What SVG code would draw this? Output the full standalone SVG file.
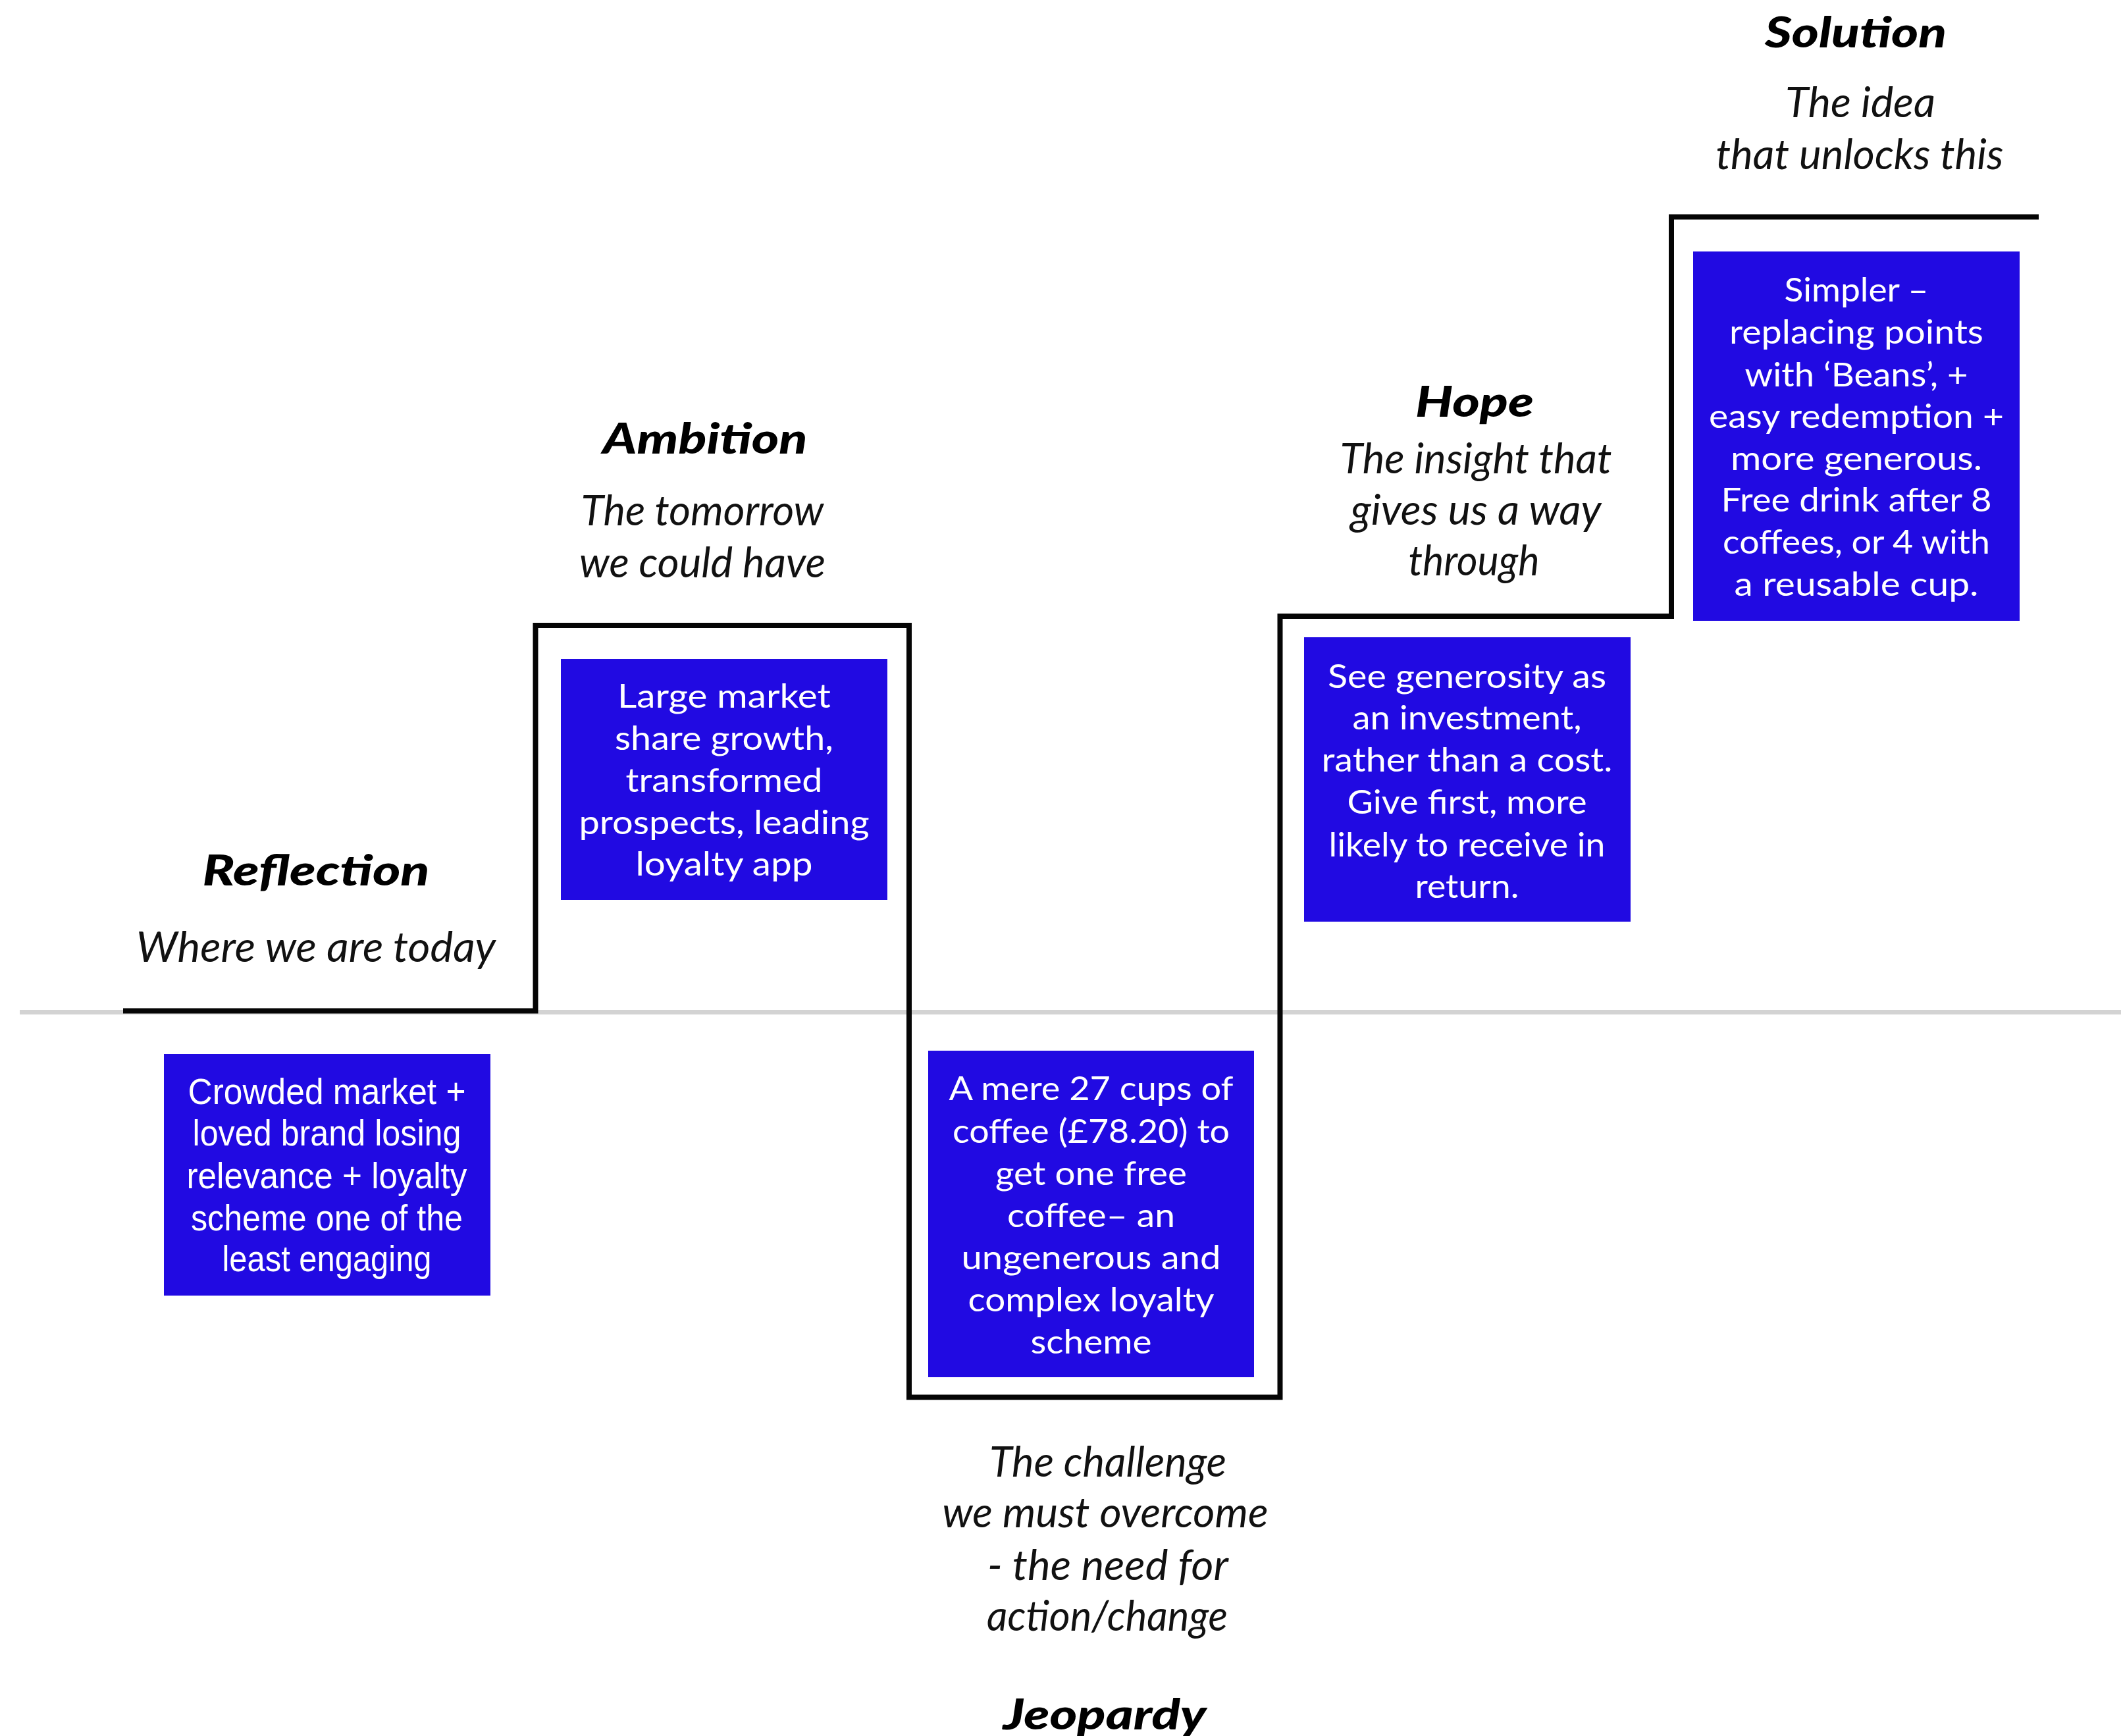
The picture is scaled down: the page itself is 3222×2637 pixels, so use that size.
<svg xmlns="http://www.w3.org/2000/svg" width="3222" height="2637" viewBox="0 0 3222 2637">
<style>
.bg{fill:#ffffff}
.axis{stroke:#d3d3d3;stroke-width:7;fill:none}
.step{stroke:#050505;stroke-width:8;fill:none;stroke-linejoin:miter}
.box{fill:#210ae2}
.bt{fill:#ffffff;font-family:Lato,"Noto Sans",sans-serif;font-size:50px;font-weight:400;text-anchor:middle}
.bn{fill:#ffffff;font-family:"Liberation Sans",Arial,sans-serif;font-size:55px;text-anchor:middle}
.hd{fill:#000000;font-family:Lato,"Noto Sans",sans-serif;font-size:64px;font-style:italic;font-weight:900;text-anchor:middle}
.sb{fill:#111111;font-family:Lato,"Noto Sans",sans-serif;font-size:64px;font-style:italic;font-weight:400;text-anchor:middle}
</style>
<rect class="bg" x="0" y="0" width="3222" height="2637"/>
<g id="connectors">
<line class="axis" x1="30" y1="1537.5" x2="3222" y2="1537.5"/>
<path class="step" d="M187,1535.5 H813.5 V950 H1381 V2122.5 H1944.5 V936 H2539 V329.5 H3097"/>
</g>
<g id="reflection">
<text class="hd" x="480" y="1345" textLength="345" lengthAdjust="spacingAndGlyphs">Reflection</text>
<text class="sb" x="480" y="1461" textLength="546" lengthAdjust="spacingAndGlyphs">Where we are today</text>
<rect class="box" x="249" y="1601" width="496" height="367"/>
<text class="bn" x="496.5" y="1677" textLength="422" lengthAdjust="spacingAndGlyphs">Crowded market +</text>
<text class="bn" x="496.5" y="1740" textLength="408" lengthAdjust="spacingAndGlyphs">loved brand losing</text>
<text class="bn" x="496.5" y="1805" textLength="426" lengthAdjust="spacingAndGlyphs">relevance + loyalty</text>
<text class="bn" x="496.5" y="1869" textLength="413" lengthAdjust="spacingAndGlyphs">scheme one of the</text>
<text class="bn" x="496.5" y="1931" textLength="318" lengthAdjust="spacingAndGlyphs">least engaging</text>
</g>
<g id="ambition">
<text class="hd" x="1071" y="689" textLength="311" lengthAdjust="spacingAndGlyphs">Ambition</text>
<text class="sb" x="1067" y="798" textLength="369" lengthAdjust="spacingAndGlyphs">The tomorrow</text>
<text class="sb" x="1067" y="877" textLength="374" lengthAdjust="spacingAndGlyphs">we could have</text>
<rect class="box" x="852" y="1001" width="496" height="366"/>
<text class="bt" x="1100" y="1075" textLength="324" lengthAdjust="spacingAndGlyphs">Large market</text>
<text class="bt" x="1100" y="1139" textLength="332" lengthAdjust="spacingAndGlyphs">share growth,</text>
<text class="bt" x="1100" y="1203" textLength="299" lengthAdjust="spacingAndGlyphs">transformed</text>
<text class="bt" x="1100" y="1267" textLength="441" lengthAdjust="spacingAndGlyphs">prospects, leading</text>
<text class="bt" x="1100" y="1330" textLength="269" lengthAdjust="spacingAndGlyphs">loyalty app</text>
</g>
<g id="jeopardy">
<rect class="box" x="1410" y="1596" width="495" height="496"/>
<text class="bt" x="1657.5" y="1671" textLength="432" lengthAdjust="spacingAndGlyphs">A mere 27 cups of</text>
<text class="bt" x="1657.5" y="1736" textLength="421" lengthAdjust="spacingAndGlyphs">coffee (£78.20) to</text>
<text class="bt" x="1657.5" y="1800" textLength="291" lengthAdjust="spacingAndGlyphs">get one free</text>
<text class="bt" x="1657.5" y="1864" textLength="255" lengthAdjust="spacingAndGlyphs">coffee– an</text>
<text class="bt" x="1657.5" y="1928" textLength="394" lengthAdjust="spacingAndGlyphs">ungenerous and</text>
<text class="bt" x="1657.5" y="1992" textLength="374" lengthAdjust="spacingAndGlyphs">complex loyalty</text>
<text class="bt" x="1657.5" y="2056" textLength="184" lengthAdjust="spacingAndGlyphs">scheme</text>
<text class="sb" x="1683" y="2243" textLength="360" lengthAdjust="spacingAndGlyphs">The challenge</text>
<text class="sb" x="1679" y="2320" textLength="495" lengthAdjust="spacingAndGlyphs">we must overcome</text>
<text class="sb" x="1683" y="2400" textLength="366" lengthAdjust="spacingAndGlyphs">- the need for</text>
<text class="sb" x="1682" y="2477" textLength="366" lengthAdjust="spacingAndGlyphs">action/change</text>
<text class="hd" x="1678" y="2627" textLength="309" lengthAdjust="spacingAndGlyphs">Jeopardy</text>
</g>
<g id="hope">
<text class="hd" x="2240" y="633" textLength="180" lengthAdjust="spacingAndGlyphs">Hope</text>
<text class="sb" x="2242" y="719" textLength="413" lengthAdjust="spacingAndGlyphs">The insight that</text>
<text class="sb" x="2242" y="797" textLength="381" lengthAdjust="spacingAndGlyphs">gives us a way</text>
<text class="sb" x="2239" y="874" textLength="199" lengthAdjust="spacingAndGlyphs">through</text>
<rect class="box" x="1981" y="968" width="496" height="432"/>
<text class="bt" x="2228.5" y="1045" textLength="423" lengthAdjust="spacingAndGlyphs">See generosity as</text>
<text class="bt" x="2228.5" y="1108" textLength="348" lengthAdjust="spacingAndGlyphs">an investment,</text>
<text class="bt" x="2228.5" y="1172" textLength="442" lengthAdjust="spacingAndGlyphs">rather than a cost.</text>
<text class="bt" x="2228.5" y="1236" textLength="364" lengthAdjust="spacingAndGlyphs">Give first, more</text>
<text class="bt" x="2228.5" y="1301" textLength="420" lengthAdjust="spacingAndGlyphs">likely to receive in</text>
<text class="bt" x="2228.5" y="1364" textLength="158" lengthAdjust="spacingAndGlyphs">return.</text>
</g>
<g id="solution">
<text class="hd" x="2819" y="72" textLength="276" lengthAdjust="spacingAndGlyphs">Solution</text>
<text class="sb" x="2826" y="178" textLength="228" lengthAdjust="spacingAndGlyphs">The idea</text>
<text class="sb" x="2825" y="257" textLength="437" lengthAdjust="spacingAndGlyphs">that unlocks this</text>
<rect class="box" x="2572" y="382" width="496" height="561"/>
<text class="bt" x="2820" y="458" textLength="219" lengthAdjust="spacingAndGlyphs">Simpler –</text>
<text class="bt" x="2820" y="522" textLength="386" lengthAdjust="spacingAndGlyphs">replacing points</text>
<text class="bt" x="2820" y="587" textLength="339" lengthAdjust="spacingAndGlyphs">with ‘Beans’, +</text>
<text class="bt" x="2820" y="650" textLength="448" lengthAdjust="spacingAndGlyphs">easy redemption +</text>
<text class="bt" x="2820" y="714" textLength="382" lengthAdjust="spacingAndGlyphs">more generous.</text>
<text class="bt" x="2820" y="777" textLength="411" lengthAdjust="spacingAndGlyphs">Free drink after 8</text>
<text class="bt" x="2820" y="841" textLength="406" lengthAdjust="spacingAndGlyphs">coffees, or 4 with</text>
<text class="bt" x="2820" y="905" textLength="371" lengthAdjust="spacingAndGlyphs">a reusable cup.</text>
</g>
</svg>
